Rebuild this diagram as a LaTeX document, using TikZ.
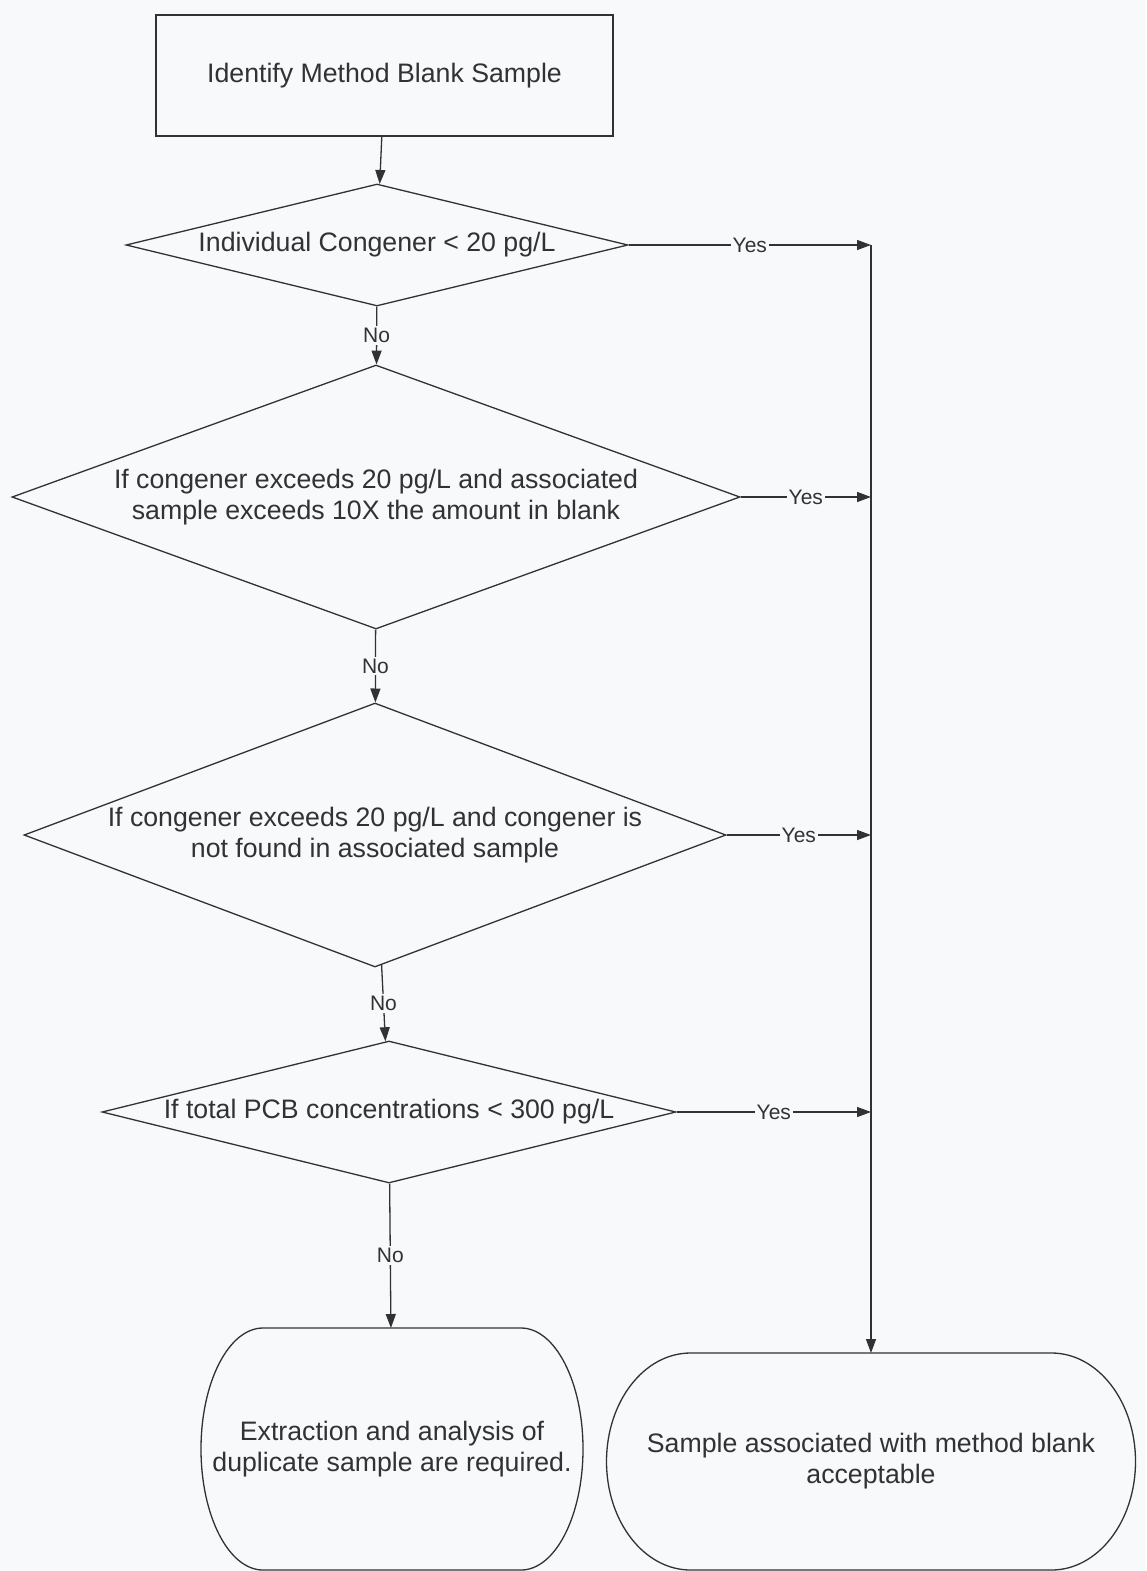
\documentclass[tikz,border=0pt]{standalone}
\usepackage{fontspec}
\setmainfont{Liberation Sans}
\usetikzlibrary{arrows.meta,positioning,calc,shapes.geometric}
\definecolor{paper}{RGB}{247,249,250}
\definecolor{ink}{RGB}{50,50,50}
\tikzset{
  >={Triangle[length=14pt,width=10pt]},
  every picture/.append style={line width=1.3pt},
}

\begin{document}
\begin{tikzpicture}[
  x=1pt, y=-1pt,
  every node/.style={font=\fontsize{26.7}{31}\selectfont, text=ink},
  start/.style={rectangle, draw=ink, minimum width=457pt, minimum height=121pt},
  decision/.style={diamond, draw=ink, inner sep=0pt, align=center},
  terminal/.style={rectangle, inner sep=0pt, outer sep=0pt, align=center},
  answer/.style={fill=paper, inner sep=2pt, font=\fontsize{21}{25}\selectfont},
  arrow/.style={->, draw=ink}
]

% Page
\fill[paper] (0,0) rectangle (1146,1571);
\useasboundingbox (0,0) rectangle (1146,1571);

% Start
\node[start] (ident) at (384.5,75.5) {Identify Method Blank Sample};

% Decisions
\node[decision, minimum width=502pt, minimum height=122pt, shape aspect=4.1] (d1) at (377,245) {Individual Congener < 20 pg/L};
\node[decision, minimum width=728pt, minimum height=264pt, shape aspect=2.75] (d2) at (376,497) {If congener exceeds 20 pg/L and associated\\sample exceeds 10X the amount in blank};
\node[decision, minimum width=702pt, minimum height=264pt, shape aspect=2.66] (d3) at (375,835) {If congener exceeds 20 pg/L and congener is\\not found in associated sample};
\node[decision, minimum width=574pt, minimum height=142pt, shape aspect=4.04] (d4) at (389,1112) {If total PCB concentrations < 300 pg/L};

% Outcomes
\node[terminal, minimum width=382pt, minimum height=242pt] (redo) at (392,1449) {Extraction and analysis of\\duplicate sample are required.};
\node[terminal, minimum width=529pt, minimum height=217pt] (ok) at (871,1461.5) {Sample associated with method blank\\acceptable};
\foreach \n/\r/\h in {redo/62/121, ok/84/108.5}
  \draw[ink, line join=round] ([xshift=\r pt]\n.north west) -- ([xshift=-\r pt]\n.north east)
    arc[start angle=90, end angle=-90, x radius=\r pt, y radius=\h pt]
    -- ([xshift=\r pt]\n.south west)
    arc[start angle=270, end angle=90, x radius=\r pt, y radius=\h pt] -- cycle;

% No path
\draw[arrow] (ident) -- (d1);
\draw[arrow] (d1) -- node[answer]{No} (d2);
\draw[arrow] (d2) -- node[answer]{No} (d3);
\draw[arrow] (d3) -- node[answer]{No} (d4);
\draw[arrow] (d4) -- node[answer]{No} (redo);

% Yes branches
\foreach \i in {1,...,4} {
  \coordinate (j\i) at (d\i.east -| ok.north);
  \draw[arrow] (d\i.east) -- node[answer]{Yes} (j\i);
}
\draw[arrow] (j1) -- (ok.north);

\end{tikzpicture}
\end{document}
